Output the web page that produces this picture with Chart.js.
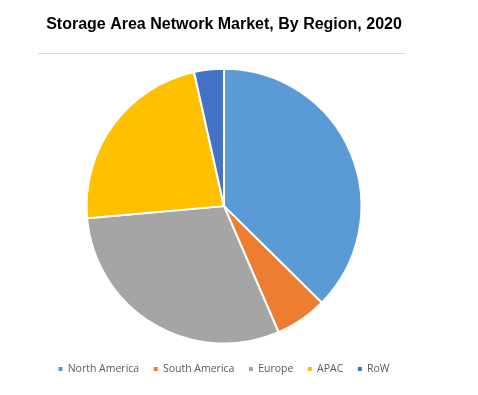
<!DOCTYPE html>
<html>
<head>
<meta charset="utf-8">
<script src="https://cdn.jsdelivr.net/npm/chart.js@4/dist/chart.umd.min.js"></script>
<style>
  html, body { margin: 0; padding: 0; background: #ffffff; }
  #wrap { width: 478px; height: 395px; position: relative; }
</style>
</head>
<body>
<div id="wrap"><canvas id="c" width="478" height="395"></canvas></div>
<script>
const chartTitle = 'Storage Area Network Market, By Region, 2020';
const regions = ['North America', 'South America', 'Europe', 'APAC', 'RoW'];
const shares = [37.4, 6.1, 30.1, 22.9, 3.5];
const sliceColors = ['#5B9BD5', '#ED7D31', '#A5A5A5', '#FFC000', '#4472C4'];

const separatorLine = {
  id: 'separatorLine',
  afterDraw(chart) {
    const ctx = chart.ctx;
    ctx.save();
    ctx.strokeStyle = '#d9d9d9';
    ctx.lineWidth = 1;
    ctx.beginPath();
    ctx.moveTo(38, 53.5);
    ctx.lineTo(405, 53.5);
    ctx.stroke();
    ctx.restore();
  }
};

const defaultLabels = Chart.controllers.pie.overrides.plugins.legend.labels.generateLabels;

new Chart(document.getElementById('c'), {
  type: 'pie',
  data: {
    labels: regions,
    datasets: [{
      data: shares,
      backgroundColor: sliceColors,
      borderColor: '#ffffff',
      borderWidth: 2
    }]
  },
  options: {
    responsive: false,
    animation: false,
    layout: { padding: { left: 0, right: 30, top: 0, bottom: 10.75 } },
    plugins: {
      title: {
        display: true,
        text: chartTitle,
        color: '#000000',
        font: { family: 'Liberation Sans', size: 16, weight: 'bold' },
        padding: { top: 15, bottom: 33.5 }
      },
      legend: {
        position: 'bottom',
        title: {
          display: true,
          text: '',
          font: { size: 1 },
          padding: { top: 0, bottom: 3.5 }
        },
        labels: {
          boxWidth: 4,
          boxHeight: 4,
          padding: 14.5,
          color: '#595959',
          font: { family: 'Open Sans', size: 10.5 },
          generateLabels(chart) {
            return defaultLabels(chart).map(l => Object.assign(l, { lineWidth: 0, strokeStyle: l.fillStyle }));
          }
        }
      },
      tooltip: { enabled: false }
    }
  },
  plugins: [separatorLine]
});
</script>
</body>
</html>
